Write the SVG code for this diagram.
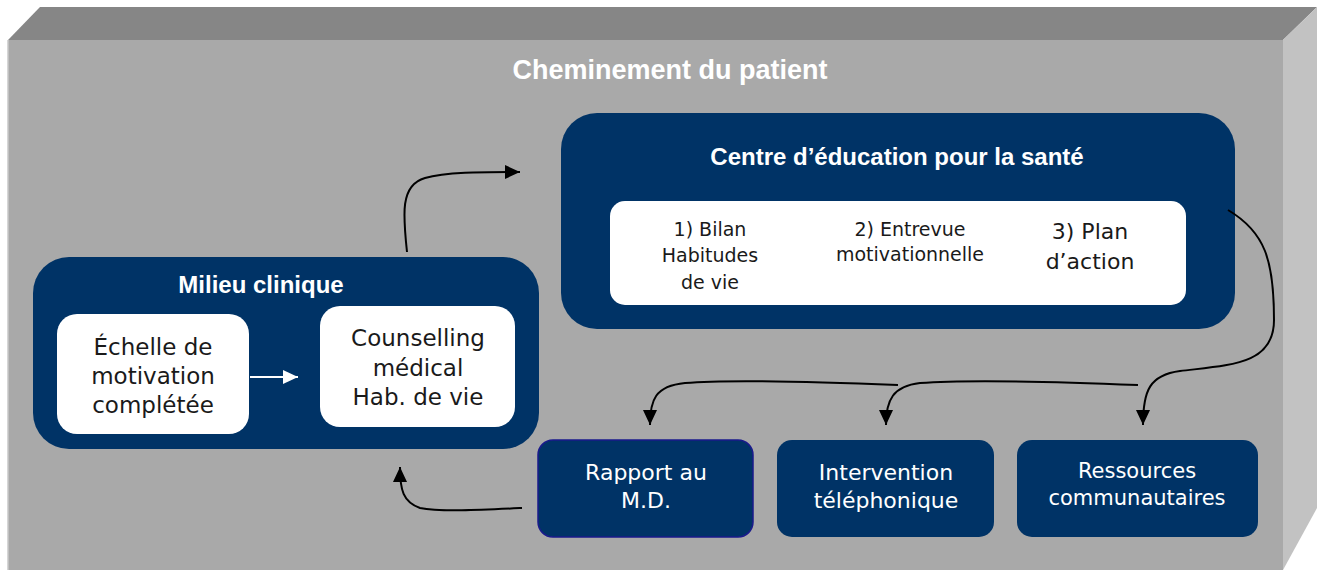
<svg xmlns="http://www.w3.org/2000/svg" width="1324" height="570" viewBox="0 0 1324 570">
<style>
.navy{fill:#003366}
.white{fill:#ffffff}
.title{font-family:"Liberation Sans",Arial,sans-serif;font-weight:bold;fill:#ffffff;text-anchor:middle}
.dark{font-family:"DejaVu Sans","Liberation Sans",sans-serif;fill:#1a1a1a;text-anchor:middle}
.light{font-family:"DejaVu Sans","Liberation Sans",sans-serif;fill:#ffffff;text-anchor:middle}
.conn{fill:none;stroke:#000;stroke-width:2}
.connw{fill:none;stroke:#fff;stroke-width:2}
</style>
<defs>
<marker id="ah" markerUnits="userSpaceOnUse" markerWidth="16" markerHeight="16" refX="15" refY="7" orient="auto">
<path d="M0,0 L15,7 L0,14 Z" fill="#000"/>
</marker>
<marker id="ahw" markerUnits="userSpaceOnUse" markerWidth="16" markerHeight="16" refX="15" refY="7" orient="auto">
<path d="M0,0 L15,7 L0,14 Z" fill="#fff"/>
</marker>
</defs>
<g id="box3d">
<polygon points="40,7 1317,7 1283,40 8,40" fill="#868686"/>
<polygon points="1283,40 1317,7 1317,508 1283,570" fill="#c2c2c2"/>
<rect x="8" y="40" width="1275" height="530" fill="#a9a9a9"/>
<line x1="8" y1="40" x2="8" y2="570" stroke="#c8c8c8" stroke-width="1.5"/>
<text class="title" x="670" y="79" font-size="27">Cheminement du patient</text>
</g>
<g id="centre">
<rect x="561" y="113" width="674" height="216" rx="36" class="navy"/>
<text class="title" x="897" y="165" font-size="24">Centre d’éducation pour la santé</text>
<rect x="610" y="201" width="576" height="104" rx="15" class="white"/>
<text class="dark" font-size="19"><tspan x="710" y="236">1) Bilan</tspan><tspan x="710" y="262">Habitudes</tspan><tspan x="710" y="289">de vie</tspan></text>
<text class="dark" font-size="19"><tspan x="910" y="236">2) Entrevue</tspan><tspan x="910" y="261">motivationnelle</tspan></text>
<text class="dark" font-size="22"><tspan x="1090" y="239">3) Plan</tspan><tspan x="1090" y="269">d’action</tspan></text>
</g>
<g id="milieu">
<rect x="33" y="257" width="506" height="192" rx="36" class="navy"/>
<text class="title" x="261" y="293" font-size="24">Milieu clinique</text>
</g>
<g id="echelle">
<rect x="57" y="314" width="192" height="120" rx="20" class="white"/>
<text class="dark" font-size="23"><tspan x="153" y="355">Échelle de</tspan><tspan x="153" y="384">motivation</tspan><tspan x="153" y="413">complétée</tspan></text>
</g>
<g id="counselling">
<rect x="320" y="306" width="195" height="121" rx="20" class="white"/>
<text class="dark" font-size="23"><tspan x="418" y="346">Counselling</tspan><tspan x="418" y="376">médical</tspan><tspan x="418" y="405">Hab. de vie</tspan></text>
</g>
<g id="rapport">
<rect x="538" y="440" width="215" height="97" rx="15" class="navy" stroke="#1a1a8c" stroke-width="1.5"/>
<text class="light" font-size="22"><tspan x="646" y="480">Rapport au</tspan><tspan x="646" y="508">M.D.</tspan></text>
</g>
<g id="intervention">
<rect x="777" y="440" width="217" height="97" rx="15" class="navy"/>
<text class="light" font-size="22"><tspan x="886" y="480">Intervention</tspan><tspan x="886" y="508">téléphonique</tspan></text>
</g>
<g id="ressources">
<rect x="1017" y="440" width="241" height="97" rx="15" class="navy"/>
<text class="light" font-size="21"><tspan x="1137" y="478">Ressources</tspan><tspan x="1137" y="505">communautaires</tspan></text>
</g>
<g id="connectors">
<path class="connw" d="M250,377 L298,377" marker-end="url(#ahw)"/>
<path class="conn" d="M407,252 C403,215 400,185 425,178 C445,172 480,172 520,172" marker-end="url(#ah)"/>
<path class="conn" d="M1228,210 C1265,232 1274,260 1274,320 C1274,365 1230,365 1180,371 C1150,375 1143,390 1143,425" marker-end="url(#ah)"/>
<path class="conn" d="M1138,385 C1040,381 960,380 920,383 C893,386 886,400 886,425" marker-end="url(#ah)"/>
<path class="conn" d="M898,385 C800,381 720,380 685,383 C655,386 650,400 650,425" marker-end="url(#ah)"/>
<path class="conn" d="M522,508 C480,510 440,512 420,508 C403,502 400,490 400,467" marker-end="url(#ah)"/>
</g>
</svg>
